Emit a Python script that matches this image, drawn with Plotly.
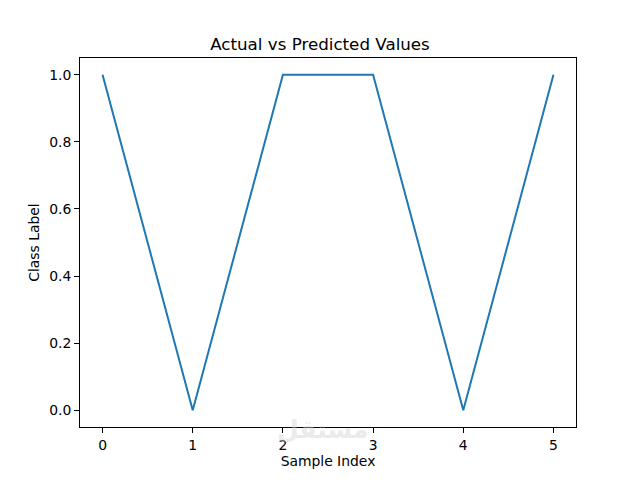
import plotly.graph_objects as go

sample_index = [0, 1, 2, 3, 4, 5]
class_label = [1, 0, 1, 1, 0, 1]
x_ticks = [0, 1, 2, 3, 4, 5]
y_ticks = [0.0, 0.2, 0.4, 0.6, 0.8, 1.0]
y_tick_text = ["0.0", "0.2", "0.4", "0.6", "0.8", "1.0"]

fig = go.Figure()
fig.add_trace(go.Scatter(x=sample_index, y=class_label, mode="lines",
                         line=dict(color="#1f77b4", width=2), showlegend=False))

font = "DejaVu Sans"
fig.update_layout(
    width=640, height=480,
    paper_bgcolor="white", plot_bgcolor="white",
    margin=dict(l=80, r=64, t=57.6, b=52.8),
    font=dict(family=font, size=13.9, color="black"),
    title=dict(text="Actual vs Predicted Values", x=0.5, xanchor="center",
               y=1 - 44/480, yanchor="middle", font=dict(size=16.7)),
)
axis_common = dict(ticks="outside", ticklen=4.9, tickwidth=1.1, tickcolor="black",
                   showline=True, linecolor="black", linewidth=1.1, mirror=True,
                   showgrid=False, zeroline=False)
fig.update_xaxes(range=[-0.25, 5.25], tickvals=x_ticks,
                 title=dict(text="Sample Index", standoff=3, font=dict(size=13.9)), **axis_common)
fig.update_yaxes(range=[-0.05, 1.05], tickvals=y_ticks, ticktext=y_tick_text,
                 title=dict(text="Class Label", standoff=6, font=dict(size=13.9)), **axis_common)
fig.add_annotation(text="<b>مستقل</b>", xref="paper", yref="paper",
                   x=(322-80)/496, y=(427.2-446)/369.6, showarrow=False,
                   font=dict(size=25, color="rgba(210,210,210,0.45)", family="DejaVu Sans"))
fig.write_html("out.html", config={"displayModeBar": False},
               post_script="document.body.style.margin='0';")
